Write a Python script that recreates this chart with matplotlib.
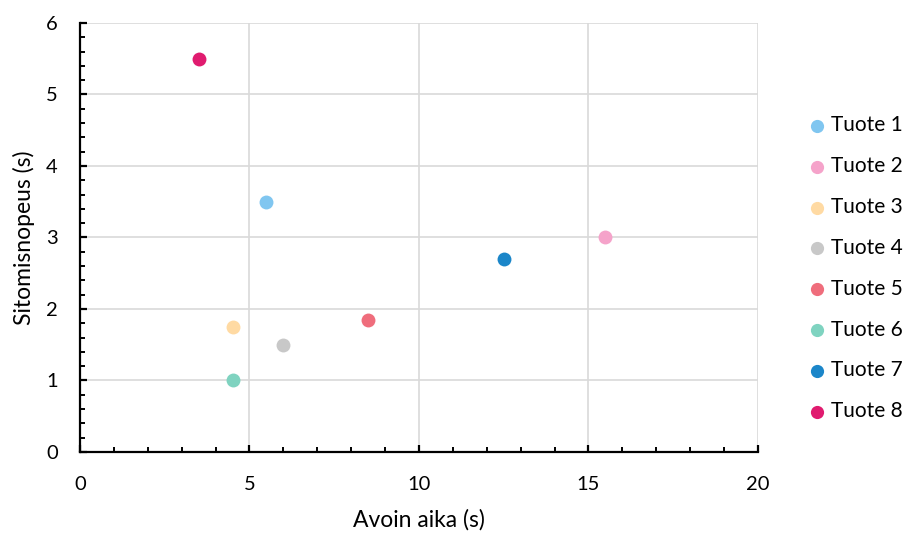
import matplotlib
matplotlib.use("Agg")
import matplotlib.pyplot as plt
from matplotlib.ticker import MultipleLocator

plt.rcParams['font.family'] = ['Lato', 'DejaVu Sans']

labels = ["Tuote 1", "Tuote 2", "Tuote 3", "Tuote 4",
          "Tuote 5", "Tuote 6", "Tuote 7", "Tuote 8"]
open_time = [5.5, 15.5, 4.5, 6.0, 8.5, 4.5, 12.5, 3.5]
bind_speed = [3.5, 3.0, 1.75, 1.5, 1.85, 1.0, 2.7, 5.5]
colors = ["#80C6F0", "#F5A3CA", "#FFDAA3", "#C8C8C8",
          "#EF6D7C", "#7FD3C0", "#1B86C9", "#E01B6F"]

fig = plt.figure(figsize=(9.07, 5.34), dpi=100)
ax = fig.add_axes([0.0882, 0.1536, 0.7475, 0.8034])

for x, y, c, lab in zip(open_time, bind_speed, colors, labels):
    ax.scatter([x], [y], s=100, color=c, label=lab, zorder=3, linewidths=0)

ax.set_xlim(0, 20)
ax.set_ylim(0, 6)
ax.xaxis.set_major_locator(MultipleLocator(5))
ax.xaxis.set_minor_locator(MultipleLocator(1))
ax.yaxis.set_major_locator(MultipleLocator(1))
ax.yaxis.set_minor_locator(MultipleLocator(0.2))

ax.grid(True, which='major', color='#D9D9D9', linewidth=1.2, zorder=0)
ax.set_axisbelow(True)
for side in ['top', 'right']:
    ax.spines[side].set_visible(False)
for side in ['left', 'bottom']:
    ax.spines[side].set_color('black')
    ax.spines[side].set_linewidth(1.6)

ax.tick_params(which='major', direction='in', length=5, width=1.6,
               labelsize=14.5, colors='black')
ax.tick_params(which='minor', direction='in', length=3.5, width=1.4,
               colors='black')
ax.tick_params(axis='x', which='major', pad=17)
ax.tick_params(axis='y', which='major', pad=16)

ax.set_xlabel("Avoin aika (s)", fontsize=16.5, labelpad=12)
ax.set_ylabel("Sitomisnopeus (s)", fontsize=16.5, labelpad=8)

ax.legend(loc='center left', bbox_to_anchor=(1.0717, 0.428), frameon=False,
          fontsize=15, labelspacing=1.0, handletextpad=0.15,
          handlelength=1.0, borderaxespad=0, borderpad=0,
          markerscale=0.95)

fig.savefig("out.png", dpi=100)
